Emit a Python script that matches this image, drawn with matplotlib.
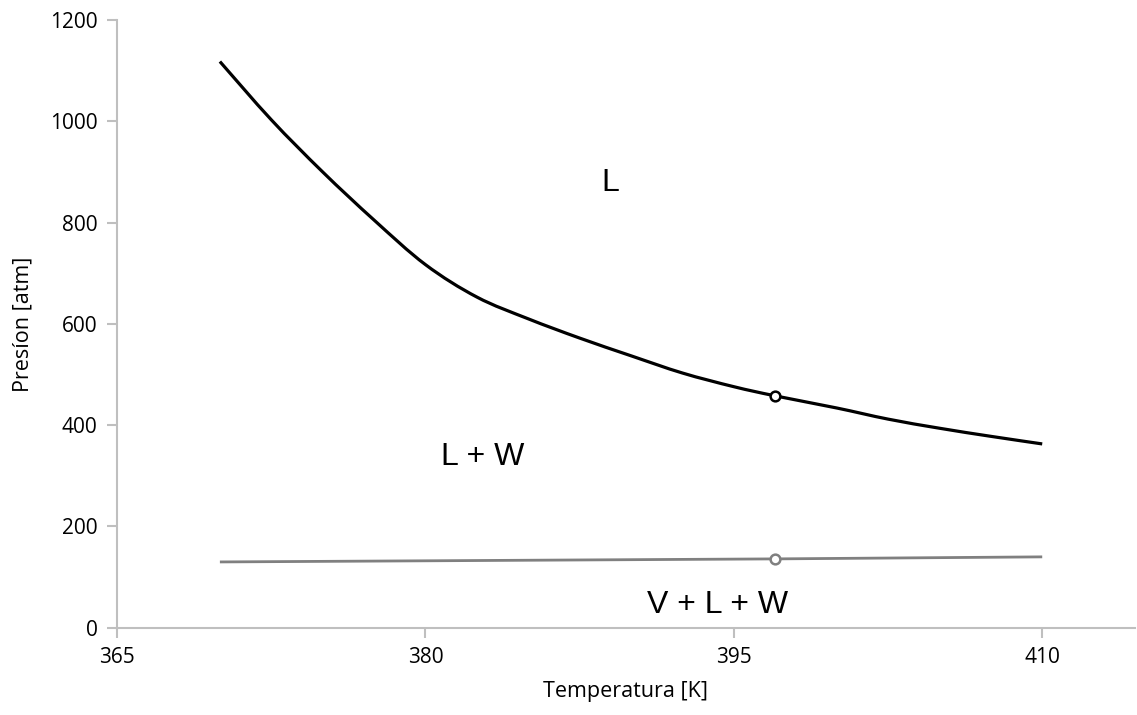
import numpy as np
import matplotlib.pyplot as plt
from matplotlib.path import Path
from matplotlib.patches import PathPatch

# Curva L / L+W (negra)
temp_lw = [370, 372.5, 375, 377.5, 380, 382.5, 385, 387.5, 390, 392.5, 395, 397, 400, 402.5, 405, 407.5, 410]
pres_lw = [1118, 1003, 900, 805, 717, 653, 610, 572, 537, 503, 476, 458, 434, 412, 394, 378, 363]

# Curva V+L+W (gris)
temp_vlw = [370, 397, 410]
pres_vlw = [130, 136, 140]

# Puntos marcados
punto_t = 397
punto_lw = 458
punto_vlw = 136

xticks = [365, 380, 395, 410]
yticks = [0, 200, 400, 600, 800, 1000, 1200]

gris_eje = '#bfbfbf'


def curva_suave(ax, x, y, **kw):
    # linea suavizada (tipo Excel) con beziers Catmull-Rom entre los puntos
    p = np.column_stack([x, y]).astype(float)
    verts = [p[0]]
    codes = [Path.MOVETO]
    n = len(p)
    for i in range(n - 1):
        p0 = p[i - 1] if i > 0 else p[i]
        p1, p2 = p[i], p[i + 1]
        p3 = p[i + 2] if i + 2 < n else p[i + 1]
        c1 = p1 + (p2 - p0) / 6
        c2 = p2 - (p3 - p1) / 6
        verts += [c1, c2, p2]
        codes += [Path.CURVE4] * 3
    ax.add_patch(PathPatch(Path(verts, codes), fill=False, **kw))


fig = plt.figure(figsize=(11.37, 7.15), dpi=100)
ax = fig.add_axes([0.103, 0.122, 0.895, 0.850])

curva_suave(ax, temp_lw, pres_lw, edgecolor='black', lw=2.3, capstyle='butt')
ax.plot(temp_vlw, pres_vlw, color='#808080', lw=2.0, solid_capstyle='butt')
ax.plot([punto_t], [punto_lw], 'o', ms=7, mfc='white', mec='black', mew=1.8)
ax.plot([punto_t], [punto_vlw], 'o', ms=7, mfc='white', mec='#808080', mew=1.8)

fuente_region = 'Liberation Sans'
ax.text(389.0, 878, 'L', fontsize=23, family=fuente_region, ha='center', va='center')
ax.text(382.8, 337, 'L + W', fontsize=23, family=fuente_region, ha='center', va='center')
ax.text(394.2, 45, 'V + L + W', fontsize=23, family=fuente_region, ha='center', va='center')

ax.set_xlim(365, 414.5)
ax.set_ylim(0, 1200)
ax.set_xticks(xticks)
ax.set_yticks(yticks)

for lado in ['top', 'right']:
    ax.spines[lado].set_visible(False)
for lado in ['left', 'bottom']:
    ax.spines[lado].set_color(gris_eje)
    ax.spines[lado].set_linewidth(1.5)

ax.tick_params(axis='both', colors=gris_eje, length=7, width=1.5, labelcolor='black',
               labelsize=15, pad=7)
for lab in ax.get_xticklabels() + ax.get_yticklabels():
    lab.set_family('Open Sans')

ax.set_xlabel('Temperatura [K]', fontsize=15.5, family='Open Sans', labelpad=9)
ax.set_ylabel('Presíon [atm]', fontsize=15.5, family='Open Sans', labelpad=12)

fig.savefig('out.png', dpi=100)
